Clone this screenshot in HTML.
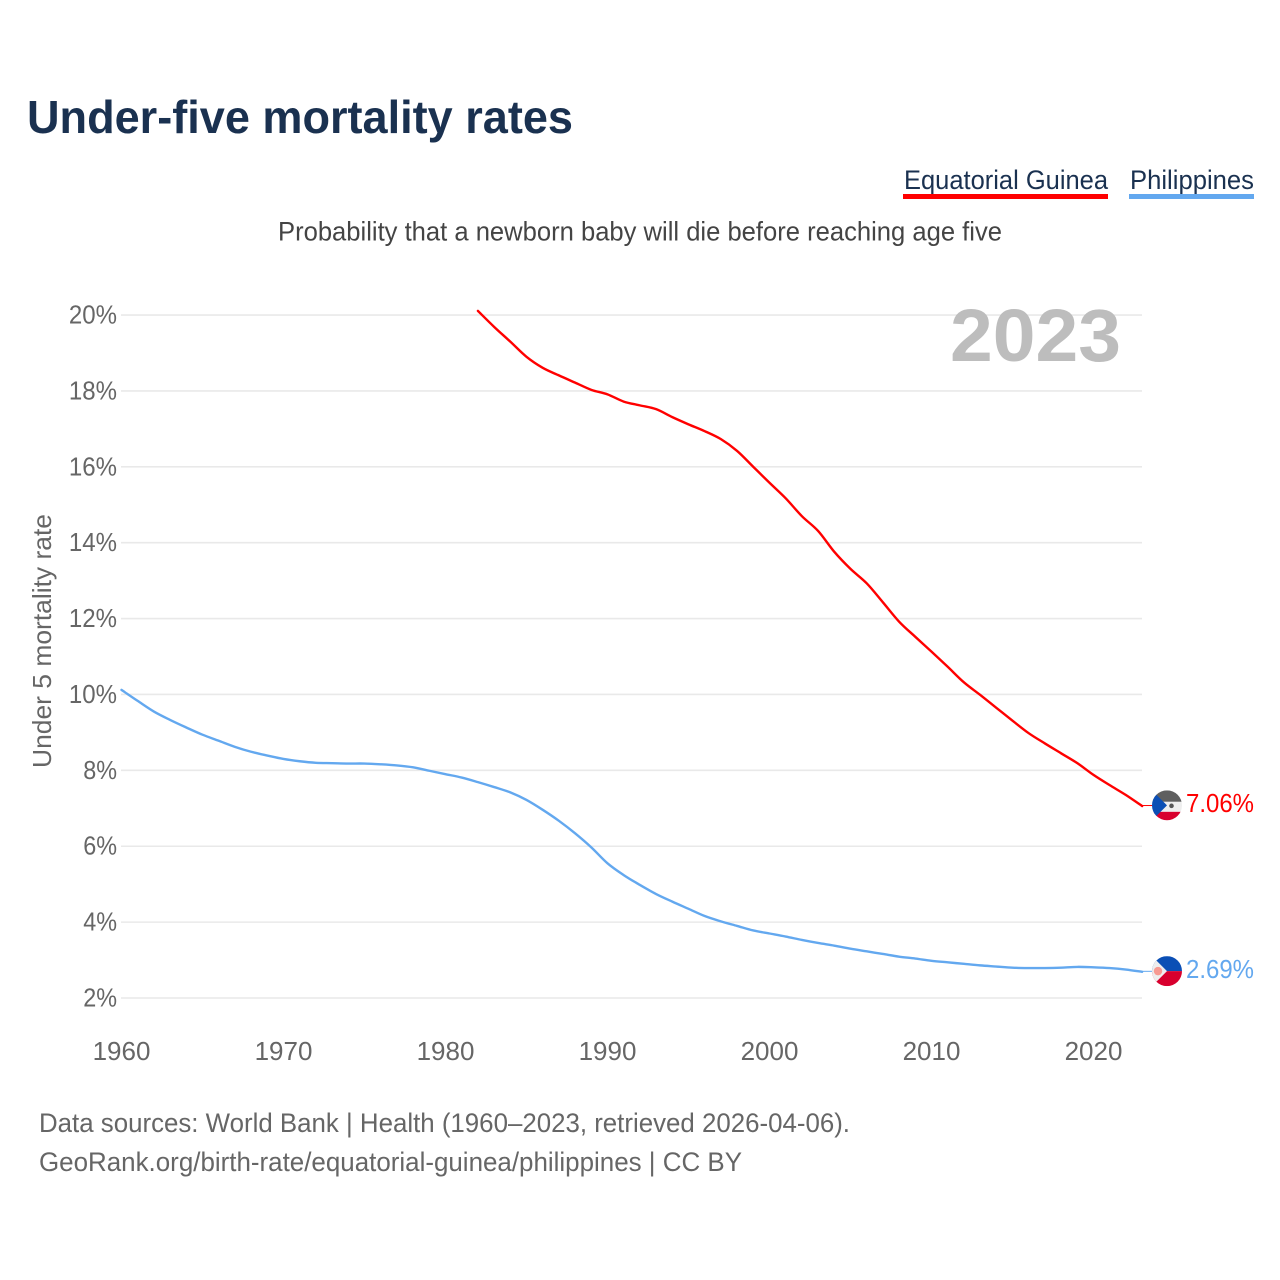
<!DOCTYPE html>
<html lang="en">
<head>
<meta charset="utf-8">
<title>Under-five mortality rates</title>
<style>
html,body{margin:0;padding:0;background:#fff;width:1280px;height:1280px;overflow:hidden}
svg{display:block;font-family:"Liberation Sans",sans-serif}
</style>
</head>
<body>
<svg id="chart" width="1280" height="1280" viewBox="0 0 1280 1280" xmlns="http://www.w3.org/2000/svg">
  <defs>
    <clipPath id="flag-clip"><circle cx="0" cy="0" r="15"></circle></clipPath>
  </defs>
  <text x="27" y="133" font-size="46" font-weight="700" fill="#1a3150" textLength="546" lengthAdjust="spacingAndGlyphs">Under-five mortality rates</text>

  <g>
    <text x="904" y="189" font-size="27" fill="#1a3150" textLength="204" lengthAdjust="spacingAndGlyphs">Equatorial Guinea</text>
    <rect x="903" y="194" width="205" height="5" fill="#ff0000"></rect>
  </g>
  <g>
    <text x="1130" y="189" font-size="27" fill="#1a3150" textLength="124" lengthAdjust="spacingAndGlyphs">Philippines</text>
    <rect x="1129" y="194" width="125" height="5" fill="#63a8ef"></rect>
  </g>

  <text x="278" y="240.5" font-size="27" fill="#444444" textLength="724" lengthAdjust="spacingAndGlyphs">Probability that a newborn baby will die before reaching age five</text>

  <g id="grid"></g>
  <g id="y-ticks"></g>
  <g id="x-ticks"></g>

  <text x="950" y="361" font-size="74" font-weight="700" fill="#bdbdbd" textLength="171" lengthAdjust="spacingAndGlyphs">2023</text>

  <text transform="translate(51 768) rotate(-90)" x="0" y="0" font-size="26" fill="#666666" textLength="254" lengthAdjust="spacingAndGlyphs">Under 5 mortality rate</text>

  <g id="series"></g>

  <g id="flag-eq">
    <g clip-path="url(#flag-clip)">
      <rect x="-15" y="-15" width="30" height="11.5" fill="#5f5f5f"></rect>
      <rect x="-15" y="-3.5" width="30" height="10" fill="#eeeeee"></rect>
      <rect x="-15" y="6.5" width="30" height="8.5" fill="#d8002e"></rect>
      <polygon points="-15,-15 0,0 -15,15" fill="#0b4fb5"></polygon>
      <circle cx="4.5" cy="0.5" r="2.3" fill="#555555"></circle>
    </g>
  </g>
  <g id="flag-ph">
    <g clip-path="url(#flag-clip)">
      <rect x="-15" y="-15" width="30" height="15" fill="#0b4fb5"></rect>
      <rect x="-15" y="0" width="30" height="15" fill="#d8002e"></rect>
      <polygon points="-15,-15 0,0 -15,15" fill="#eeeeee"></polygon>
      <circle cx="-9" cy="0" r="4.2" fill="#f79a92"></circle>
    </g>
  </g>

  <text x="39" y="1132" font-size="27" fill="#666666" textLength="811" lengthAdjust="spacingAndGlyphs">Data sources: World Bank | Health (1960–2023, retrieved 2026-04-06).</text>
  <text x="39" y="1171" font-size="27" fill="#666666" textLength="703" lengthAdjust="spacingAndGlyphs">GeoRank.org/birth-rate/equatorial-guinea/philippines | CC BY</text>
</svg>
<script>
const yTicks = [2, 4, 6, 8, 10, 12, 14, 16, 18, 20];
const xTicks = [1960, 1970, 1980, 1990, 2000, 2010, 2020];
const eqStartYear = 1982;
const eqValues = [20.11, 19.69, 19.3, 18.9, 18.61, 18.41, 18.22, 18.03, 17.91, 17.72, 17.62, 17.52, 17.31, 17.12, 16.94, 16.73, 16.42, 16.0, 15.58, 15.17, 14.7, 14.31, 13.76, 13.31, 12.93, 12.43, 11.92, 11.52, 11.13, 10.73, 10.32, 9.99, 9.65, 9.31, 8.98, 8.71, 8.45, 8.19, 7.88, 7.61, 7.35, 7.06];
const phStartYear = 1960;
const phValues = [10.12, 9.83, 9.55, 9.33, 9.13, 8.94, 8.78, 8.62, 8.49, 8.39, 8.3, 8.24, 8.2, 8.19, 8.18, 8.18, 8.16, 8.13, 8.08, 7.99, 7.9, 7.81, 7.69, 7.56, 7.42, 7.22, 6.96, 6.67, 6.34, 5.97, 5.55, 5.24, 4.98, 4.74, 4.54, 4.35, 4.16, 4.02, 3.9, 3.78, 3.7, 3.62, 3.53, 3.45, 3.38, 3.3, 3.23, 3.16, 3.09, 3.04, 2.98, 2.94, 2.9, 2.86, 2.83, 2.8, 2.79, 2.79, 2.8, 2.82, 2.81, 2.79, 2.75, 2.69];

const NS = 'http://www.w3.org/2000/svg';
function xScale(year) { return 121.5 + (year - 1960) * 16.2; }
function yScale(v) { return 998 - (v - 2) * 37.94; }
function make(tag, parent, attrs, text) {
  const el = document.createElementNS(NS, tag);
  for (const k in attrs) el.setAttribute(k, attrs[k]);
  if (text !== undefined) el.textContent = text;
  parent.appendChild(el);
  return el;
}
const grid = document.getElementById('grid');
const yGroup = document.getElementById('y-ticks');
const xGroup = document.getElementById('x-ticks');
const seriesGroup = document.getElementById('series');

yTicks.forEach(function (t) {
  const line = make('line', grid, { x1: 121, x2: 1142, y1: yScale(t), y2: yScale(t), stroke: '#e9e9e9', 'stroke-width': 1.6 });
  
  
  const str = t + '%';
  const label = make('text', yGroup, { x: 117, y: yScale(t) + 8.5, 'text-anchor': 'end', 'font-size': 26, fill: '#666666', textLength: (str.length - 1) * 14.3 + 19.5, lengthAdjust: 'spacingAndGlyphs' }, str);
  
  
});
xTicks.forEach(function (t) {
  const label = make('text', xGroup, { x: xScale(t), y: 1060, 'text-anchor': 'middle', 'font-size': 26, fill: '#666666' }, String(t));
  
  
});

function curvePath(values, startYear) {
  const p = values.map(function (v, i) { return [xScale(startYear + i), yScale(v)]; });
  let d = 'M' + p[0][0].toFixed(2) + ' ' + p[0][1].toFixed(2);
  for (let i = 0; i < p.length - 1; i++) {
    const a = p[Math.max(i - 1, 0)], b = p[i], c = p[i + 1], e = p[Math.min(i + 2, p.length - 1)];
    const c1x = b[0] + (c[0] - a[0]) / 6, c1y = b[1] + (c[1] - a[1]) / 6;
    const c2x = c[0] - (e[0] - b[0]) / 6, c2y = c[1] - (e[1] - b[1]) / 6;
    d += 'C' + c1x.toFixed(2) + ' ' + c1y.toFixed(2) + ' ' + c2x.toFixed(2) + ' ' + c2y.toFixed(2) + ' ' + c[0].toFixed(2) + ' ' + c[1].toFixed(2);
  }
  return d;
}
function drawSeries(values, startYear, color) {
  return make('path', seriesGroup, { d: curvePath(values, startYear), fill: 'none', stroke: color, 'stroke-width': 2.4, 'stroke-linejoin': 'round', 'stroke-linecap': 'round' });
}
const eqLine = drawSeries(eqValues, eqStartYear, '#ff0000');


const phLine = drawSeries(phValues, phStartYear, '#63a8ef');



function drawEnd(values, startYear, color, flagId) {
  const last = values[values.length - 1];
  const lastX = xScale(startYear + values.length - 1);
  const y = yScale(last);
  const lead = make('line', seriesGroup, { x1: lastX, x2: 1152, y1: y - 0.5, y2: y - 0.5, stroke: color, 'stroke-width': 1 });
  
  
  document.getElementById(flagId).setAttribute('transform', 'translate(1167 ' + (y - 0.7) + ')');
  const label = make('text', seriesGroup, { x: 1186, y: y + 6, 'font-size': 26, fill: color, textLength: 68, lengthAdjust: 'spacingAndGlyphs' }, last.toFixed(2) + '%');
  
  
}
drawEnd(eqValues, eqStartYear, '#ff0000', 'flag-eq');
drawEnd(phValues, phStartYear, '#63a8ef', 'flag-ph');
</script>
</body>
</html>
